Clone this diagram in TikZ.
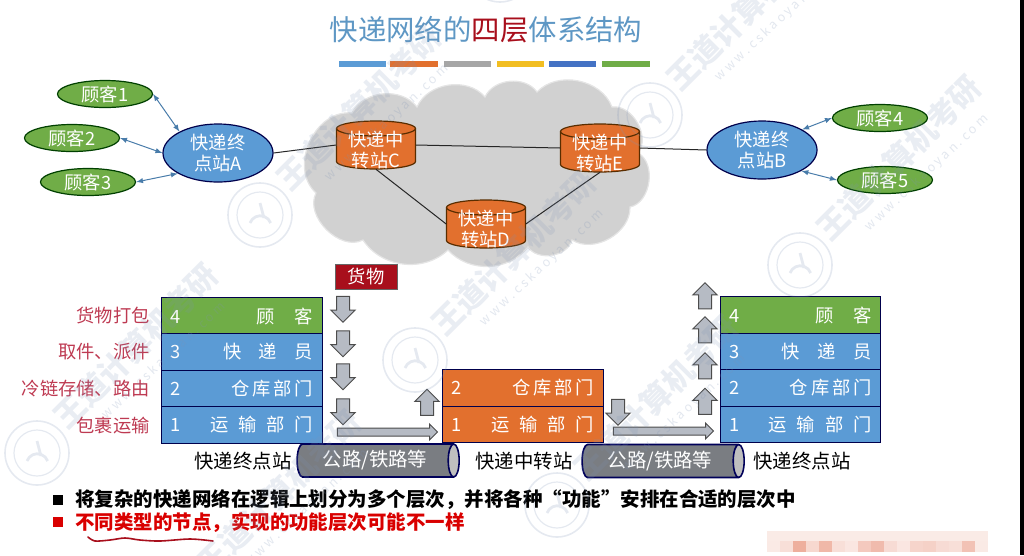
\documentclass[tikz,border=0pt]{standalone}
\usepackage{fontspec}
\setmainfont{Noto Sans CJK SC}
\usetikzlibrary{shapes.geometric,shapes.arrows}
\definecolor{netblue}{HTML}{5B9BD5}
\definecolor{netgreen}{HTML}{70AD47}
\definecolor{netorange}{HTML}{E2702E}
\definecolor{netred}{HTML}{A80F1C}
\definecolor{labelred}{HTML}{BE3A52}
\definecolor{titleblue}{HTML}{5E97C4}
\definecolor{pipegray}{HTML}{7A7D82}
\definecolor{arrowgray}{HTML}{B6BBC4}
\definecolor{barblue}{HTML}{4472C4}
\definecolor{baryellow}{HTML}{F2BE22}
\definecolor{wmark}{HTML}{7F93B5}
\tikzset{
	every node/.style={font=\fontsize{13}{15.5}\selectfont},
	customer/.style={ellipse, draw=black!75!green, line width=0.3mm, fill=netgreen, text=white, inner sep=0, minimum width=2.375cm, minimum height=0.675cm},
	terminal/.style={ellipse, draw=black!70!blue, line width=0.3mm, fill=netblue, text=white, inner sep=0, minimum width=2.75cm, minimum height=1.45cm, align=center},
	drum/.style={rectangle, inner sep=0, minimum width=1.975cm, minimum height=1.2cm},
	drumline/.style={draw=black!65!orange, line width=0.3mm, fill=netorange},
	drumtext/.style={text=white, align=center},
	layer/.style={rectangle, draw=black!70!blue, line width=0.25mm, text=white, inner xsep=0.225cm, inner ysep=0, minimum height=0.91cm, text width=3.55cm, align=left},
	blockarrow/.style={single arrow, draw=black!70, line width=0.25mm, fill=arrowgray, inner sep=0.15cm, single arrow head extend=0.14cm, minimum height=0.65cm},
	longarrow/.style={single arrow, draw=black!70, line width=0.25mm, fill=arrowgray, inner sep=0.0875cm, single arrow head extend=0.1cm, minimum height=2.5cm},
	pipe/.style={cylinder, aspect=0.55, draw=black!65!blue, line width=0.4mm, cylinder uses custom fill, cylinder body fill=pipegray, cylinder end fill=black!25, text=white, inner sep=0, minimum height=4.05cm, minimum width=0.825cm, font=\fontsize{13.8}{16}\selectfont},
	redlabel/.style={anchor=east, text=labelred, inner sep=0},
	caption/.style={text=black, font=\fontsize{13.8}{16}\selectfont},
	link/.style={draw=black!85, line width=0.25mm},
	access/.style={draw=netblue!80!black, line width=0.25mm, <->, >=latex},
	wmtext/.style={rotate=45, text=wmark, opacity=0.17, font=\fontsize{22}{24}\selectfont\bfseries},
	wmsub/.style={rotate=43, text=wmark, opacity=0.22, font=\fontsize{9}{11}\selectfont},
}
\def\layerbox[#1](#2)(#3)(#4:#5){\node[layer,fill=#1] (#2) at (#3) {#4\hfill #5};}
\def\drumat(#1)(#2,#3){
	\node[drum] (#1) at (#2, #3) {};
	\draw[drumline] (#2-39.5, #3-16.5) arc[x radius=39.5, y radius=7.5, start angle=180, end angle=360] -- (#2+39.5, #3+16.5) arc[x radius=39.5, y radius=7.5, start angle=0, end angle=180] -- cycle;
	\draw[drumline, fill=none] (#2-39.5, #3-16.5) arc[x radius=39.5, y radius=7.5, start angle=180, end angle=0];
}
\def\wmlogo(#1,#2){
	\draw[wmark, opacity=0.2, line width=0.4mm] (#1, #2) circle (32);
	\draw[wmark, opacity=0.2, line width=0.3mm] (#1, #2) circle (23);
	\draw[wmark, opacity=0.2, line width=0.7mm] (#1-10, #2+8) arc (200:340:11) (#1, #2-12) -- (#1+4, #2+3);
}
\def\gap#1{\hspace{#1pt}}

\begin{document}
\begin{tikzpicture}[x=0.025cm, y=-0.025cm]
	%%%%% START %%%%%
	\useasboundingbox (0, 0) rectangle (1024, 555);

	\node[text=titleblue, font=\fontsize{20.2}{24}\selectfont] (title) at (486, 30) {快递网络的{\color{netred}四层}体系结构};

	\foreach \xa/\xb/\barcol in {339/386/netblue, 390/438/netorange, 444/491/black!35, 497/544/baryellow, 549/596/barblue, 602/650/netgreen}
		\fill[\barcol] (\xa, 61) rectangle (\xb, 67);

	% cloud
	\draw[draw=black!10, fill=black!18, line width=0.3mm] (316, 193)
		to[bend left=72, looseness=1.1] (352, 113)
		to[bend left=58] (417, 107)
		to[bend left=58] (485, 97)
		to[bend left=60] (537, 92)
		to[bend left=58] (612, 107)
		to[bend left=68] (638, 153)
		to[bend left=70] (630, 207)
		to[bend left=62] (572, 240)
		to[bend left=66] (528, 247)
		to[bend left=50] (448, 250)
		to[bend left=50] (363, 240)
		to[bend left=72] cycle;

	% customers and stations
	\node[customer] (c1) at (105, 94) {顾客1};
	\node[customer] (c2) at (72, 138) {顾客2};
	\node[customer] (c3) at (88, 182) {顾客3};
	\node[customer] (c4) at (880, 118) {顾客4};
	\node[customer] (c5) at (885, 180) {顾客5};

	\node[terminal] (termA) at (218, 153) {快递终\\点站A};
	\node[terminal] (termB) at (762, 150) {快递终\\点站B};

	\drumat(hubC)(376, 145)
	\drumat(hubE)(600, 148)
	\drumat(hubD)(486, 224)
	\node[drumtext] (txtC) at (376, 150) {快递中\\转站C};
	\node[drumtext] (txtE) at (600, 153) {快递中\\转站E};
	\node[drumtext] (txtD) at (486, 229) {快递中\\转站D};

	\draw[link] (termA.east) -- (hubC.west);
	\draw[link] (hubC.east) -- (hubE.west);
	\draw[link] (hubC.south) -- (hubD.west);
	\draw[link] (hubD.east) -- (hubE.south);
	\draw[link] (hubE.east) -- (termB.west);

	\draw[access] (c1.east) -- (termA.151);
	\draw[access] (c2.east) -- (termA.west);
	\draw[access] (c3.east) -- (termA.207);
	\draw[access] (c4.west) -- (termB.27);
	\draw[access] (c5.west) -- (termB.-28);

	% left station
	\node[rectangle, fill=netred, draw=black!60, line width=0.2mm, text=white, minimum width=1.55cm, minimum height=0.625cm, inner sep=0] (goods) at (366, 276.5) {货物};

	\layerbox[netgreen](la4)(242, 316)(4:顾\gap{14}客)
	\layerbox[netblue](la3)(242, 352)(3:快\gap{12.5}递\gap{12.5}员)
	\layerbox[netblue](la2)(242, 388.5)(2:仓\gap{2}库\gap{2}部\gap{2}门)
	\layerbox[netblue](la1)(242, 425)(1:运\gap{7}输\gap{7}部\gap{7}门)

	\node[redlabel] (pack) at (150, 315) {货物打包};
	\node[redlabel] (pick) at (150, 352) {取件、派件};
	\node[redlabel] (cold) at (150, 389) {冷链存储、路由};
	\node[redlabel] (ship) at (150, 426) {包裹运输};

	\foreach \ya [count=\i] in {306, 340.5, 373.5, 408.5}
		\node[blockarrow, shape border rotate=270] (dn\i) at (343, \ya) {};
	\node[longarrow] (runA) at (385.5, 432) {};

	% middle station
	\layerbox[netorange](mb2)(523, 388)(2:仓\gap{2}库\gap{2}部\gap{2}门)
	\layerbox[netorange](mb1)(523, 424.5)(1:运\gap{7}输\gap{7}部\gap{7}门)
	\node[blockarrow, shape border rotate=90] (upmid) at (427, 405.5) {};
	\node[blockarrow, shape border rotate=270] (dnmid) at (618, 409) {};
	\node[longarrow] (runB) at (661.5, 431) {};

	% right station
	\layerbox[netgreen](rc4)(800.5, 315)(4:顾\gap{14}客)
	\layerbox[netblue](rc3)(800.5, 351.5)(3:快\gap{12.5}递\gap{12.5}员)
	\layerbox[netblue](rc2)(800.5, 388)(2:仓\gap{2}库\gap{2}部\gap{2}门)
	\layerbox[netblue](rc1)(800.5, 424.5)(1:运\gap{7}输\gap{7}部\gap{7}门)
	\foreach \ya [count=\i] in {299, 333, 369, 404.5}
		\node[blockarrow, shape border rotate=90] (up\i) at (705, \ya) {};

	% pipes
	\node[pipe] (roadA) at (375, 460.5) {公路/铁路等};
	\node[pipe] (roadB) at (660, 461) {公路/铁路等};
	\node[caption] (capA) at (243, 461) {快递终点站};
	\node[caption] (capB) at (524, 461) {快递中转站};
	\node[caption] (capC) at (802, 461) {快递终点站};

	% bottom lines
	\fill[black] (53, 495) rectangle (63, 505);
	\fill[red!85!black] (53, 517) rectangle (63, 527);
	\node[anchor=west, inner sep=0, font=\fontsize{13.85}{17}\selectfont\bfseries] (lineA) at (75, 500) {将复杂的快递网络在逻辑上划分为多个层次，并将各种“功能”安排在合适的层次中};
	\node[anchor=west, inner sep=0, text=red!85!black, font=\fontsize{13.85}{17}\selectfont\bfseries] (lineB) at (75, 523) {不同类型的节点，实现的功能层次可能不一样};
	\draw[line width=0.4mm, color=netred, line cap=round] plot[smooth] coordinates {(88, 537) (95, 541) (110, 540) (125, 538) (140, 540) (160, 541) (190, 539) (213, 541)};

	% blurred patch
	\foreach \xm/\shade in {767/12, 780/18, 793/45, 806/22, 819/40, 832/18, 845/14, 858/30, 871/38, 884/20, 897/14, 910/24, 923/26, 936/20, 949/18, 962/34, 975/12}{
		\fill[color=red!40!brown!\shade!white] (\xm, 541) rectangle ++(13, 11);
		\fill[color=red!30!brown!12!white] (\xm, 531) rectangle ++(13, 10);
	}

	% watermark
	\wmlogo(500,-30)
	\foreach \wx/\wy [count=\i] in {260/215, 650/115, 800/265, 415/360, 37/453, 557/505, 180/600}{
		\wmlogo(\wx,\wy)
		\node[wmtext] (wm\i) at (\wx+99, \wy-107) {王道计算机考研};
		\node[wmsub] (ws\i) at (\wx+127, \wy-92) {w w w . c s k a o y a n . c o m};
	}

	% dark strip at the right edge
	\fill[black] (1020, 0) rectangle (1024, 555);
	%%%%% END %%%%%
\end{tikzpicture}
\end{document}
